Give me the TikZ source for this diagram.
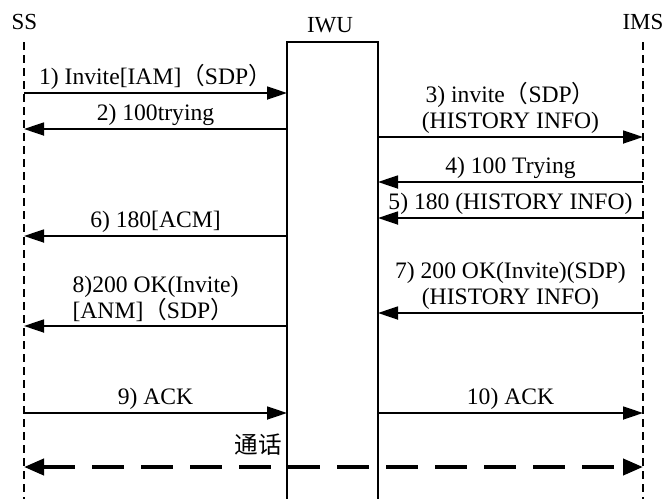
\documentclass[tikz,border=0pt]{standalone}
\usepackage{fontspec}
\setmainfont{Liberation Serif}
\newfontfamily\cjk{Noto Sans CJK SC}
\usetikzlibrary{arrows.meta, calc, positioning}
\tikzset{
  ent/.style={font=\fontsize{11.5}{13}\selectfont, inner sep=0pt},
  life/.style={dash pattern=on 4pt off 2.5pt, line width=0.7pt},
  msg/.style={-{Triangle[length=10pt,width=6.5pt]}, line width=0.9pt},
  lbl/.style={font=\fontsize{11.8}{13}\selectfont, align=center, inner sep=1.5pt},
  talk/.style={{Triangle[length=10pt,width=8pt]}-{Triangle[length=10pt,width=8pt]},
    line width=2pt, dash pattern=on 16pt off 8.5pt},
}
\begin{document}
\begin{tikzpicture}[x=0.5pt,y=-0.5pt]
  \useasboundingbox (0,0) rectangle (666,499);
  % entities
  \node[ent] (ss)  at (24.5,21.5) {SS};
  \node[ent] (iwu) at (330,25)    {IWU};
  \node[ent] (ims) at (643,21.5)  {IMS};
  \coordinate (ssl)  at (24,42);
  \coordinate (imsl) at (643,42);
  \coordinate (iwuL) at (287,42);
  \coordinate (iwuR) at (378,42);
  \draw[life] (ssl) -- ++(0,470);
  \draw[life] (imsl) -- ++(0,470);
  \draw[line width=0.9pt] ($(iwuL)+(0,470)$) -- (iwuL) -- (iwuR) -- ($(iwuR)+(0,470)$);
  % message rows
  \coordinate (m1)  at (0,93);
  \coordinate (m2)  at (0,129);
  \coordinate (m3)  at (0,137);
  \coordinate (m4)  at (0,182);
  \coordinate (m5)  at (0,218);
  \coordinate (m6)  at (0,236);
  \coordinate (m7)  at (0,313);
  \coordinate (m8)  at (0,326);
  \coordinate (m9)  at (0,413);
  \coordinate (m10) at (0,413);
  \coordinate (m11) at (0,467);
  \draw[msg] (ssl |- m1) -- node[lbl, above] {1) Invite[IAM]{\cjk （}SDP{\cjk ）}} (iwuL |- m1);
  \draw[msg] (iwuL |- m2) -- node[lbl, above] {2) 100trying} (ssl |- m2);
  \draw[msg] (iwuR |- m3) -- node[lbl, above] {3) invite{\cjk （}SDP{\cjk ）}\\(HISTORY INFO)} (imsl |- m3);
  \draw[msg] (imsl |- m4) -- node[lbl, above] {4) 100 Trying} (iwuR |- m4);
  \draw[msg] (imsl |- m5) -- node[lbl, above] {5) 180 (HISTORY INFO)} (iwuR |- m5);
  \draw[msg] (iwuL |- m6) -- node[lbl, above] {6) 180[ACM]} (ssl |- m6);
  \draw[msg] (imsl |- m7) -- node[lbl, above] {7) 200 OK(Invite)(SDP)\\(HISTORY INFO)} (iwuR |- m7);
  \draw[msg] (iwuL |- m8) -- node[lbl, above, align=left] {8)200 OK(Invite)\\{}[ANM]{\cjk （}SDP{\cjk ）}} (ssl |- m8);
  \draw[msg] (ssl |- m9) -- node[lbl, above] {9) ACK} (iwuL |- m9);
  \draw[msg] (iwuR |- m10) -- node[lbl, above] {10) ACK} (imsl |- m10);
  % conversation
  \draw[talk] (ssl |- m11) -- (imsl |- m11);
  \node[lbl, font=\cjk\fontsize{11.8}{13}\selectfont, anchor=south east, inner sep=0pt]
    (tk) at ($(iwuL |- m11)+(-5,-11)$) {通话};
\end{tikzpicture}
\end{document}
